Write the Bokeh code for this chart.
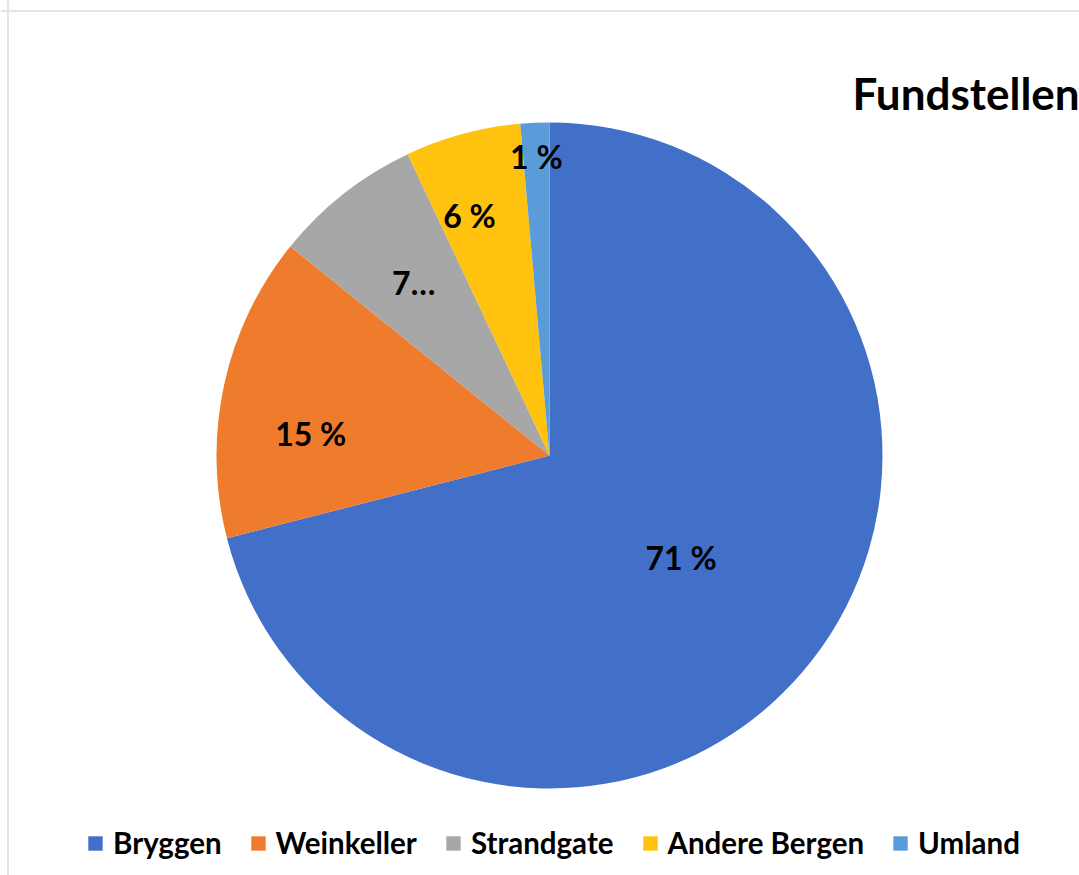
import math
from bokeh.plotting import figure
from bokeh.models import ColumnDataSource, Range1d, Label, Legend, LegendItem, Span
from bokeh.core.properties import value
from bokeh.embed import file_html
from bokeh.resources import INLINE

# ---- data ----
categories = ["Bryggen", "Weinkeller", "Strandgate", "Andere Bergen", "Umland"]
shares = [71.0, 14.8, 7.2, 5.6, 1.4]
label_texts = ["71 %", "15 %", "7…", "6 %", "1 %"]
colors = ["#4270C8", "#EF7B2C", "#A7A7A7", "#FFC20E", "#5A9CD9"]
# label placement style: radius fraction and angular shift (degrees, clockwise)
label_radius_frac = [0.50, 0.72, 0.66, 0.76, 0.90]
label_angle_shift = [0.0, -6.9, 0.0, -3.3, 0.0]
title_text = "Fundstellen"

W, H = 1079, 875
cx, cy, R = 549, H - 455, 333
FONT = "Lato"

total = sum(shares)
starts, ends, lx, ly = [], [], [], []
cum = 0.0
for s, rf, sh in zip(shares, label_radius_frac, label_angle_shift):
    a0 = cum / total
    cum += s
    a1 = cum / total
    # clockwise from 12 o'clock
    starts.append(math.pi / 2 - 2 * math.pi * a1)
    ends.append(math.pi / 2 - 2 * math.pi * a0)
    mid = (a0 + a1) / 2
    ang = math.pi / 2 - 2 * math.pi * mid - math.radians(sh)
    lx.append(cx + rf * R * math.cos(ang))
    ly.append(cy + rf * R * math.sin(ang))

src = ColumnDataSource(dict(cat=categories, start=starts, end=ends, color=colors,
                            lx=lx, ly=ly, txt=label_texts))

p = figure(width=W, height=H, output_backend="svg", toolbar_location=None,
           x_range=Range1d(0, W), y_range=Range1d(0, H), min_border=0)
p.axis.visible = False
p.grid.visible = False
p.outline_line_color = None
p.background_fill_color = "white"
p.border_fill_color = "white"

# chart-area border (left and top edges visible in the reference)
p.add_layout(Span(location=7.5, dimension="height", line_color="#E1E4EA", line_width=2))
p.add_layout(Span(location=H - 10.5, dimension="width", line_color="#E1E4EA", line_width=2))

wr = p.wedge(x=cx, y=cy, radius=R, start_angle="start", end_angle="end",
             fill_color="color", line_color=None, source=src)

p.text(x="lx", y="ly", text="txt", source=src, text_font=value(FONT),
       text_font_style="bold", text_font_size="32px", text_align="center",
       text_baseline="middle", text_color="black")

p.add_layout(Label(x=852, y=H - 92, x_units="screen", y_units="screen", text=title_text,
                   text_font=FONT, text_font_style="bold", text_font_size="44px",
                   text_baseline="alphabetic", text_color="black"))

items = [LegendItem(label=c, renderers=[wr], index=i) for i, c in enumerate(categories)]
legend = Legend(items=items, orientation="horizontal", location=(86, 15),
                glyph_width=18, glyph_height=18, label_standoff=9, spacing=27,
                label_text_font=FONT, label_text_font_style="bold",
                label_text_font_size="29.5px", label_text_color="black",
                border_line_color=None, background_fill_alpha=0, padding=0, margin=0)
p.add_layout(legend, "center")

open("out.html", "w").write(file_html(p, INLINE))
